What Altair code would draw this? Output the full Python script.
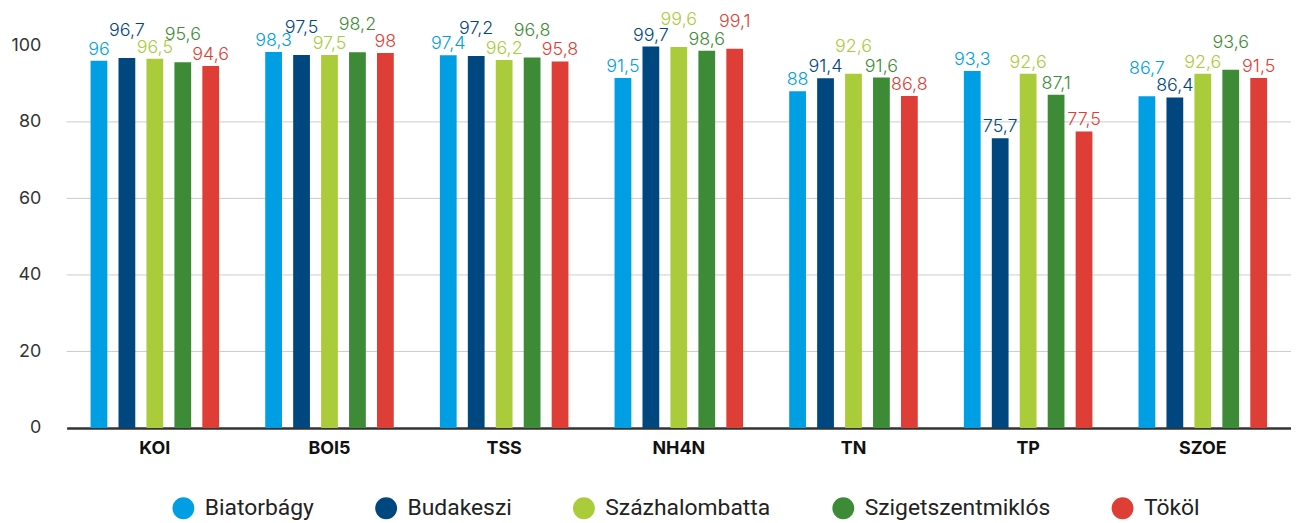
import altair as alt
import pandas as pd
from itertools import product

categories = ["KOI", "BOI5", "TSS", "NH4N", "TN", "TP", "SZOE"]
series = ["Biatorbágy", "Budakeszi", "Százhalombatta", "Szigetszentmiklós", "Tököl"]
colors = ["#009FE3", "#00467F", "#AACB3A", "#3E8B37", "#DE3E35"]

biatorbagy = [96, 98.3, 97.4, 91.5, 88, 93.3, 86.7]
budakeszi = [96.7, 97.5, 97.2, 99.7, 91.4, 75.7, 86.4]
szazhalombatta = [96.5, 97.5, 96.2, 99.6, 92.6, 92.6, 92.6]
szigetszentmiklos = [95.6, 98.2, 96.8, 98.6, 91.6, 87.1, 93.6]
tokol = [94.6, 98, 95.8, 99.1, 86.8, 77.5, 91.5]

y_ticks = [0, 20, 40, 60, 80, 100]
grid_values = [20, 40, 60, 80]

values_by_series = [biatorbagy, budakeszi, szazhalombatta, szigetszentmiklos, tokol]

# label stagger: choose which labels in a group to lift to avoid overlaps
LIFT = 4.2
THRESH = 3.0


def place(vals):
    best = None
    for combo in product([0, 1], repeat=len(vals)):
        pos = [v + LIFT * c for v, c in zip(vals, combo)]
        seps = [abs(pos[i] - pos[i + 1]) for i in range(len(pos) - 1)]
        coll = sum(1 for s in seps if s < THRESH)
        key = (coll, sum(combo), -min(seps))
        if best is None or key < best[0]:
            best = (key, pos)
    return best[1]


rows = []
for ci, cat in enumerate(categories):
    vals = [vs[ci] for vs in values_by_series]
    pos = place(vals)
    for si, s in enumerate(series):
        v = vals[si]
        rows.append({
            "category": cat,
            "series": s,
            "value": v,
            "label_y": pos[si],
            "label": f"{v:g}".replace(".", ","),
        })
df = pd.DataFrame(rows)
grid_df = pd.DataFrame({"g": grid_values})

x_enc = alt.X("category:N", sort=categories,
              scale=alt.Scale(paddingInner=0.2, paddingOuter=0.105),
              axis=alt.Axis(title=None, labelAngle=0, labelFont="Inter", labelFontSize=18,
                            labelFontWeight="bold", labelColor="#111", labelPadding=12,
                            ticks=False, domain=True, domainColor="#333", domainWidth=2.5))
xoff = alt.XOffset("series:N", sort=series, scale=alt.Scale(paddingInner=0.4, paddingOuter=0.2))
color_scale = alt.Scale(domain=series, range=colors)
y_scale = alt.Scale(domain=[0, 100], nice=False)

grid = alt.Chart(grid_df).mark_rule(color="#cccccc", strokeWidth=1).encode(
    y=alt.Y("g:Q", scale=y_scale)
)

bars = alt.Chart(df).mark_bar().encode(
    x=x_enc,
    xOffset=xoff,
    y=alt.Y("value:Q", scale=y_scale,
            axis=alt.Axis(title=None, values=y_ticks, grid=False, ticks=False, domain=False,
                          labelFont="Inter", labelFontSize=18, labelColor="#333",
                          labelPadding=26)),
    color=alt.Color("series:N", scale=color_scale, sort=series,
                    legend=alt.Legend(title=None, orient="none", direction="horizontal",
                                      legendX=106, legendY=454, symbolType="circle",
                                      symbolSize=484, symbolStrokeWidth=0,
                                      labelFont="Roboto", labelFontSize=23, labelColor="#222",
                                      labelOffset=10, columnPadding=61, padding=0,
                                      labelLimit=400)),
)

labels = alt.Chart(df).mark_text(baseline="alphabetic", dy=-6, font="Inter", fontSize=18,
                                 fontWeight=300).encode(
    x=alt.X("category:N", sort=categories),
    xOffset=xoff,
    y=alt.Y("label_y:Q", scale=y_scale),
    text="label:N",
    color=alt.Color("series:N", scale=color_scale, legend=None),
)

chart = alt.layer(grid, bars, labels).properties(
    width=1232, height=385,
    autosize=alt.AutoSizeParams(type="none"),
    padding={"left": 59, "top": 36, "right": 0, "bottom": 94},
).configure_view(stroke=None)

chart.save("out.html", embed_options={"renderer": "svg", "actions": False})
